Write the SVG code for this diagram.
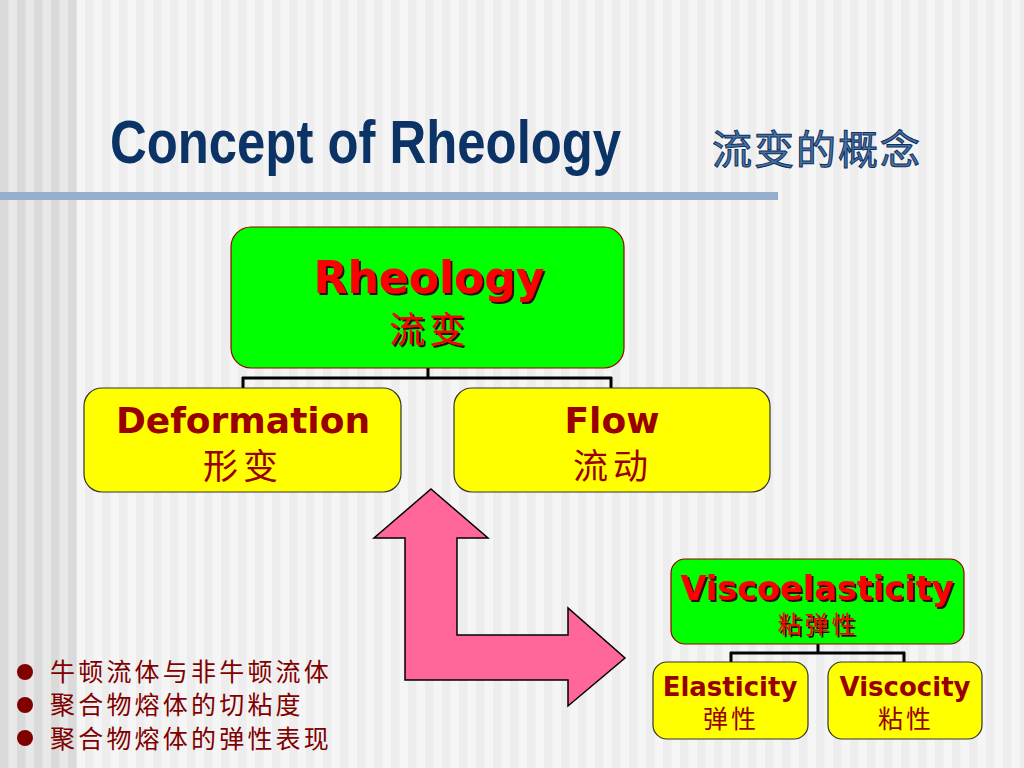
<svg xmlns="http://www.w3.org/2000/svg" width="1024" height="768" viewBox="0 0 1024 768">
<defs>
<pattern id="stripes" patternUnits="userSpaceOnUse" width="17" height="10">
<rect width="17" height="10" fill="#f5f5f5"/>
<rect width="8.5" height="10" fill="#ededed"/>
</pattern>
<pattern id="stripesL" patternUnits="userSpaceOnUse" width="17" height="10">
<rect width="17" height="10" fill="#e8e8e8"/>
<rect width="8.5" height="10" fill="#dadada"/>
</pattern>
<filter id="sh" x="-10%" y="-10%" width="120%" height="130%">
<feDropShadow dx="2" dy="2" stdDeviation="0.3" flood-color="#2a1010" flood-opacity="1"/>
</filter>
</defs>
<style>
.green{fill:#00ff00;stroke:#990000;stroke-width:1.2}
.yellow{fill:#ffff00;stroke:#333333;stroke-width:1.2}
.en{font-family:"DejaVu Sans",Verdana,sans-serif;font-weight:bold;text-anchor:middle}
.zh{font-family:"Noto Sans CJK SC",sans-serif;text-anchor:middle}
.red{fill:#ff0000;filter:url(#sh)}
.dred{fill:#990000}
.conn{fill:none;stroke:#000000;stroke-width:3}
.bul{font-family:"Noto Sans CJK SC",sans-serif;font-size:25px;letter-spacing:3.2px;fill:#800000}
</style>
<rect width="1024" height="768" fill="url(#stripes)"/>
<rect width="77" height="768" fill="url(#stripesL)"/>
<rect x="0" y="192" width="778" height="8" fill="#94aecb"/>
<g id="title">
<text transform="translate(110,163) scale(0.82,1)" x="0" y="0" font-family="Liberation Sans, Arial, sans-serif" font-weight="bold" font-size="62" fill="#0b3366">Concept of Rheology</text>
<text x="712" y="164" font-family="Noto Sans CJK SC, sans-serif" font-size="40" fill="#4a72a0" stroke="#0b2f60" stroke-width="1" letter-spacing="2">流变的概念</text>
</g>
<g id="connectors">
<path class="conn" d="M428 368 V378 M242 378 H612 M243 377 V388 M611 377 V388"/>
<path class="conn" d="M818 644 V653 M730 653 H905 M731 652 V662 M904 652 V662"/>
</g>
<g id="rheology">
<rect class="green" x="231" y="227" width="393" height="141" rx="20"/>
<text class="en red" x="429" y="293" font-size="44">Rheology</text>
<text class="zh red" x="429" y="343" font-size="36" letter-spacing="4">流变</text>
</g>
<g id="deformation">
<rect class="yellow" x="84" y="388" width="317" height="104" rx="18"/>
<text class="en dred" x="243" y="433" font-size="36">Deformation</text>
<text class="zh dred" x="243" y="479" font-size="35" letter-spacing="5">形变</text>
</g>
<g id="flow">
<rect class="yellow" x="454" y="388" width="316" height="104" rx="18"/>
<text class="en dred" x="612" y="433" font-size="36">Flow</text>
<text class="zh dred" x="613" y="479" font-size="35" letter-spacing="5">流动</text>
</g>
<g id="arrow">
<polygon points="431,489 488,538 457,538 457,635 568,635 568,608 625,658 568,706 568,680 405,680 405,538 374,538" fill="#ff6699" stroke="#000000" stroke-width="1.5" stroke-linejoin="miter"/>
</g>
<g id="viscoelasticity">
<rect class="green" x="671" y="559" width="293" height="85" rx="14"/>
<text class="en red" x="817" y="600" font-size="33.5">Viscoelasticity</text>
<text class="zh red" x="818" y="633" font-size="24" letter-spacing="3">粘弹性</text>
</g>
<g id="elasticity">
<rect class="yellow" x="653" y="662" width="155" height="77" rx="14"/>
<text class="en dred" x="730" y="696" font-size="26">Elasticity</text>
<text class="zh dred" x="731" y="728" font-size="25" letter-spacing="3">弹性</text>
</g>
<g id="viscocity">
<rect class="yellow" x="828" y="662" width="154" height="77" rx="14"/>
<text class="en dred" x="905" y="696" font-size="26">Viscocity</text>
<text class="zh dred" x="906" y="728" font-size="25" letter-spacing="3">粘性</text>
</g>
<g id="bullets">
<circle cx="25" cy="672" r="8" fill="#800000"/>
<circle cx="25" cy="705" r="8" fill="#800000"/>
<circle cx="25" cy="738" r="8" fill="#800000"/>
<text class="bul" x="50" y="681">牛顿流体与非牛顿流体</text>
<text class="bul" x="50" y="714">聚合物熔体的切粘度</text>
<text class="bul" x="50" y="748">聚合物熔体的弹性表现</text>
</g>
</svg>
